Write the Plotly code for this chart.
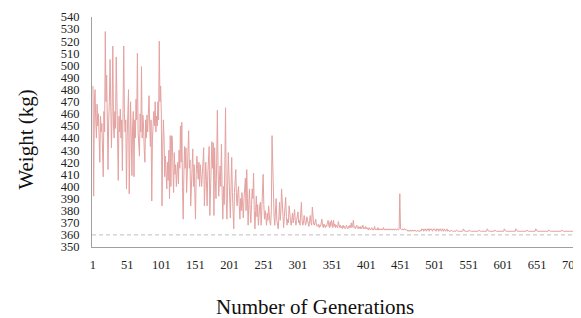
import plotly.graph_objects as go

# Weight (kg) per generation
weights = [
    483, 392, 470, 480, 455, 440, 468, 450, 460, 435,
    420, 458, 445, 452, 430, 408, 462, 445, 528, 470,
    492, 440, 414, 455, 470, 505, 445, 432, 462, 516,
    450, 440, 462, 448, 507, 455, 430, 405, 458, 445,
    464, 440, 455, 413, 465, 516, 460, 445, 455, 398,
    440, 462, 480, 394, 458, 470, 440, 409, 450, 462,
    408, 455, 440, 472, 455, 510, 445, 430, 425, 460,
    445, 499, 440, 459, 450, 430, 420, 455, 440, 459,
    445, 460, 475, 450, 433, 455, 388, 440, 450, 462,
    450, 470, 445, 458, 450, 470, 455, 520, 470, 483,
    460, 384, 430, 455, 440, 408, 425, 410, 398, 420,
    405, 430, 390, 442, 400, 442, 441, 415, 395, 428,
    410, 418, 400, 412, 420, 402, 430, 415, 450, 420,
    453, 400, 373, 410, 433, 415, 432, 395, 410, 425,
    446, 415, 422, 384, 405, 420, 431, 400, 418, 395,
    373, 410, 425, 415, 406, 420, 400, 418, 412, 400,
    410, 420, 432, 384, 400, 420, 405, 384, 410, 425,
    433, 376, 405, 420, 437, 415, 436, 376, 432, 405,
    390, 420, 463, 415, 392, 405, 417, 400, 435, 395,
    373, 400, 385, 420, 465, 390, 373, 400, 428, 410,
    390, 374, 400, 424, 395, 380, 365, 395, 405, 414,
    390, 384, 395, 400, 385, 373, 390, 380, 395, 385,
    374, 390, 400, 407, 380, 414, 390, 368, 385, 398,
    380, 370, 385, 398, 390, 411, 380, 365, 380, 392,
    375, 385, 368, 380, 384, 387, 368, 380, 395, 410,
    385, 373, 380, 370, 368, 378, 372, 384, 375, 370,
    368, 380, 442, 410, 395, 375, 368, 380, 390, 372,
    368, 365, 375, 387, 372, 380, 398, 385, 372, 366,
    375, 384, 391, 375, 368, 373, 370, 384, 375, 372,
    368, 372, 378, 370, 376, 381, 372, 368, 372, 376,
    379, 370, 372, 368, 378, 387, 372, 368, 370, 376,
    372, 368, 370, 375, 372, 368, 367, 372, 376, 370,
    368, 383, 372, 369, 368, 372, 373, 368, 367, 368,
    369, 366, 368, 367, 370, 373, 368, 366, 369, 367,
    366, 368, 367, 370, 372, 368, 366, 371, 367, 372,
    368, 366, 372, 367, 369, 366, 368, 367, 366, 371,
    367, 366, 368, 366, 367, 365, 368, 366, 367, 365,
    366, 368, 366, 365, 367, 366, 368, 366, 370, 366,
    368, 372, 366, 367, 365, 366, 368, 366, 365, 367,
    366, 365, 367, 365, 366, 368, 365, 366, 365, 367,
    365, 366, 365, 364, 366, 365, 364, 365, 366, 364,
    365, 364, 367, 365, 364, 365, 364, 366, 364, 365,
    364, 365, 364, 364, 365, 366, 364, 365, 364, 364,
    365, 364, 364, 365, 364, 364, 365, 364, 364, 365,
    364, 364, 365, 364, 364, 365, 364, 364, 365, 394,
    365, 364, 364, 365, 364, 364, 365, 364, 364, 364,
    364, 363, 364, 363, 363, 364, 363, 363, 364, 363,
    363, 364, 363, 363, 363, 364, 363, 363, 363, 364,
    363, 365, 364, 365, 363, 364, 365, 364, 363, 365,
    364, 365, 363, 365, 364, 365, 364, 363, 365, 364,
    365, 364, 363, 365, 364, 365, 363, 364, 365, 364,
    363, 365, 364, 363, 365, 364, 363, 364, 365, 363,
    364, 363, 363, 363, 364, 363, 363, 363, 363, 363,
    363, 363, 364, 363, 363, 363, 363, 363, 363, 363,
    363, 363, 365, 363, 363, 363, 363, 363, 363, 363,
    363, 364, 363, 363, 363, 363, 363, 363, 363, 363,
    363, 363, 363, 363, 363, 364, 363, 363, 363, 363,
    363, 363, 363, 363, 363, 363, 363, 365, 363, 363,
    363, 363, 363, 363, 363, 363, 363, 363, 364, 363,
    363, 363, 363, 363, 363, 363, 363, 363, 363, 363,
    363, 363, 365, 363, 363, 363, 363, 363, 363, 363,
    363, 363, 363, 363, 363, 363, 363, 363, 363, 365,
    363, 363, 363, 363, 363, 363, 363, 363, 363, 363,
    363, 363, 363, 363, 363, 364, 363, 363, 363, 363,
    363, 363, 363, 363, 363, 363, 363, 363, 365, 363,
    363, 363, 363, 363, 363, 363, 363, 363, 363, 363,
    363, 363, 363, 363, 363, 363, 363, 364, 363, 363,
    363, 363, 363, 363, 363, 363, 363, 363, 363, 363,
    363, 363, 363, 363, 363, 363, 364, 363, 363, 363,
    363, 363, 363, 363, 363, 363, 363, 363, 363, 363,
    363, 363, 363, 363, 363, 363, 363, 363, 363, 363,
]
generations = list(range(1, len(weights) + 1))

x_tick_values = [1, 51, 101, 151, 201, 251, 301, 351, 401, 451, 501, 551, 601, 651, 701]
x_tick_labels = [str(v) for v in x_tick_values]
y_tick_values = list(range(350, 541, 10))
target_weight = 360

x_title = "Number of Generations"
y_title = "Weight (kg)"

FONT = "Liberation Serif, Times New Roman, serif"

fig = go.Figure()
fig.add_trace(go.Scatter(
    x=generations, y=weights, mode="lines",
    line=dict(color="rgb(228,162,160)", width=1),
    showlegend=False, hoverinfo="skip",
))
fig.add_hline(y=target_weight, line=dict(color="#BFBFBF", width=1, dash="4px,3px"))

# The page body adds an 8px margin, so the figure is 8px smaller on each axis
fig.update_layout(
    width=573, height=310,
    margin=dict(l=84, r=0, t=9, b=71),
    paper_bgcolor="white", plot_bgcolor="white",
    font=dict(family=FONT, size=12, color="#222"),
    xaxis=dict(
        range=[-0.45, 709.3],
        tickmode="array", tickvals=x_tick_values, ticktext=x_tick_labels,
        showgrid=False, zeroline=False,
        showline=True, linecolor="#A0A0A0", linewidth=1,
        ticks="outside", ticklen=6, tickcolor="rgba(0,0,0,0)",
        ticklabeloverflow="allow",
        tickfont=dict(family=FONT, size=12.5, color="#222"),
    ),
    yaxis=dict(
        range=[350, 540],
        tickmode="array", tickvals=y_tick_values,
        showgrid=False, zeroline=False,
        showline=True, linecolor="#A0A0A0", linewidth=1,
        ticks="outside", ticklen=9, tickcolor="rgba(0,0,0,0)",
        tickfont=dict(family=FONT, size=12.5, color="#222"),
    ),
    annotations=[
        dict(text=x_title, xref="paper", yref="paper", x=0.46, y=-0.261,
             xanchor="center", yanchor="middle", showarrow=False,
             font=dict(family=FONT, size=21, color="#111")),
        dict(text=y_title, xref="paper", yref="paper", x=-0.137, y=0.465,
             xanchor="center", yanchor="middle", showarrow=False, textangle=-90,
             font=dict(family=FONT, size=21, color="#111")),
    ],
)

fig.write_html("out.html")
